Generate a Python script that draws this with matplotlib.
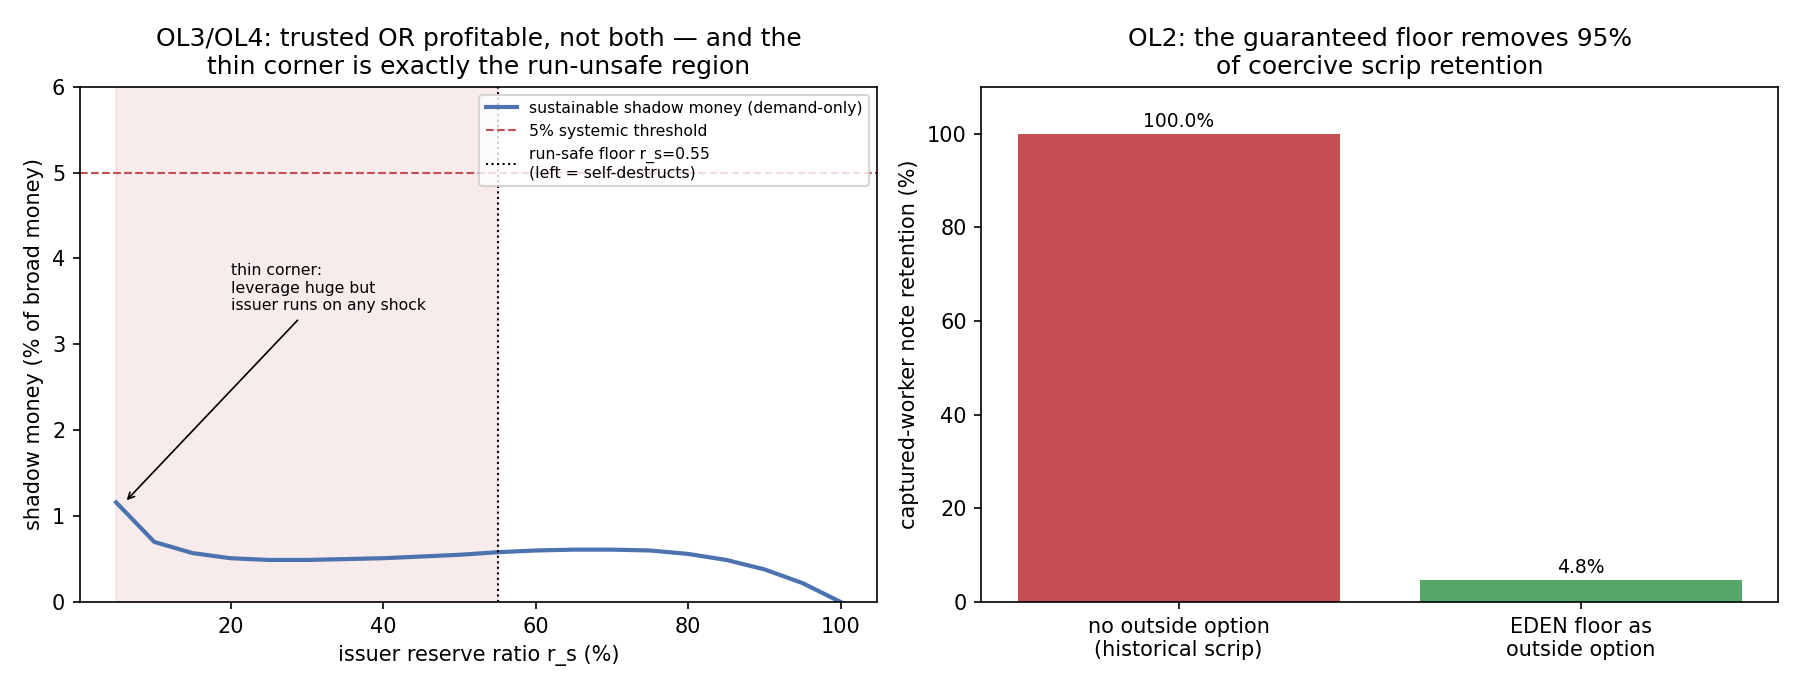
import numpy as np
import matplotlib
matplotlib.use('Agg')
import matplotlib.pyplot as plt

# left panel: sustainable shadow money vs issuer reserve ratio
reserve_ratio = [5, 10, 15, 20, 25, 30, 35, 40, 45, 50, 55, 60, 65, 70, 75, 80, 85, 90, 95, 100]
shadow_money = [1.16, 0.70, 0.57, 0.51, 0.49, 0.49, 0.50, 0.51, 0.53, 0.55, 0.58,
                0.60, 0.61, 0.61, 0.60, 0.56, 0.49, 0.38, 0.22, 0.0]
systemic_threshold = 5
run_safe_floor = 55

# right panel: scrip retention
scenarios = ['no outside option\n(historical scrip)', 'EDEN floor as\noutside option']
retention = [100.0, 4.8]

blue = '#4c72b0'
red = '#c44e52'
green = '#55a868'

fig, (ax1, ax2) = plt.subplots(1, 2, figsize=(12, 4.6), dpi=150)

# Left plot
ax1.axvspan(reserve_ratio[0], run_safe_floor, color=red, alpha=0.11, lw=0.8)
ax1.plot(reserve_ratio, shadow_money, color=blue, lw=2, label='sustainable shadow money (demand-only)')
ax1.axhline(systemic_threshold, color=red, ls='--', lw=1, label='5% systemic threshold')
ax1.axvline(run_safe_floor, color='black', ls=':', lw=1,
            label='run-safe floor r_s=0.55\n(left = self-destructs)')
ax1.annotate('thin corner:\nleverage huge but\nissuer runs on any shock',
             xy=(6, 1.15), xytext=(20, 3.4), fontsize=7.5,
             arrowprops=dict(arrowstyle='->', color='black', lw=0.8))
ax1.set_ylim(0, 6)
ax1.set_xlabel('issuer reserve ratio r_s (%)')
ax1.set_ylabel('shadow money (% of broad money)')
ax1.set_title('OL3/OL4: trusted OR profitable, not both \u2014 and the\nthin corner is exactly the run-unsafe region')
ax1.legend(loc='upper right', fontsize=7.5)

# Right plot
bars = ax2.bar(scenarios, retention, color=[red, green], width=0.8)
for b, v in zip(bars, retention):
    ax2.text(b.get_x() + b.get_width() / 2, v + 0.5, f'{v:.1f}%', ha='center', va='bottom', fontsize=9)
ax2.set_ylim(0, 110)
ax2.set_ylabel('captured-worker note retention (%)')
ax2.set_title('OL2: the guaranteed floor removes 95%\nof coercive scrip retention')

plt.subplots_adjust(left=0.0444, right=0.988, top=0.8743, bottom=0.1275, wspace=0.131)
plt.savefig('out.png')
